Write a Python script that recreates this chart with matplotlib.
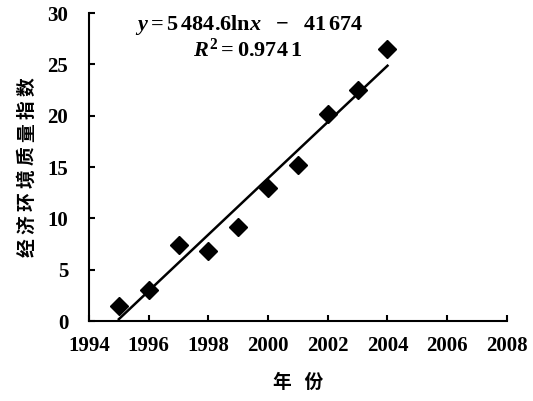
import numpy as np
import matplotlib
matplotlib.use("Agg")
import matplotlib.pyplot as plt

# 经济环境质量指数 by year
years = [1995, 1996, 1997, 1998, 1999, 2000, 2001, 2002, 2003, 2004]
index_values = [1.5, 3.0, 7.4, 6.8, 9.2, 13.0, 15.2, 20.2, 22.5, 26.5]

# logarithmic trend fitted to the series
coef_a = 5484.6
coef_b = -41674
r_squared = 0.9741

x_ticks = [1994, 1996, 1998, 2000, 2002, 2004, 2006, 2008]
y_ticks = [0, 5, 10, 15, 20, 25, 30]

plt.rcParams["font.family"] = ["Liberation Serif", "Noto Sans CJK SC"]
plt.rcParams["font.weight"] = "bold"
plt.rcParams["mathtext.fontset"] = "custom"
plt.rcParams["mathtext.rm"] = "Liberation Serif:bold"
plt.rcParams["mathtext.it"] = "Liberation Serif:bold:italic"
plt.rcParams["mathtext.bf"] = "Liberation Serif:bold"

fig = plt.figure(figsize=(5.33, 4.01), dpi=100)
ax = fig.add_axes([0.167, 0.1995, 0.784, 0.768])

# trend line
xs = np.linspace(1995.0, 2004.0, 200)
ys = coef_a * np.log(xs) + coef_b
keep = ys >= 0
ax.plot(xs[keep], ys[keep], color="black", lw=1.8, zorder=2)

ax.plot(years, index_values, linestyle="none", marker="D", ms=9.5,
        color="black", zorder=3)

ax.set_xlim(1994, 2008)
ax.set_ylim(0, 30)
ax.set_xticks(x_ticks)
ax.set_yticks(y_ticks)

for side in ("top", "right"):
    ax.spines[side].set_visible(False)
for side in ("left", "bottom"):
    ax.spines[side].set_linewidth(1.5)

ax.tick_params(axis="both", direction="in", length=4, width=1.5,
               labelsize=15)
ax.tick_params(axis="x", pad=11)
ax.tick_params(axis="y", pad=15)
for lab in ax.get_xticklabels() + ax.get_yticklabels():
    lab.set_fontweight("bold")

cjk = ["Noto Sans CJK SC", "DejaVu Sans"]
ax.set_ylabel("经 济 环 境 质 量 指 数", family=cjk, fontsize=13.5,
              fontweight="bold", labelpad=8)
ax.set_xlabel("年   份", family=cjk, fontsize=13.5, fontweight="bold",
              labelpad=12)

eq = r"$y = 5\,484.6\mathrm{ln}x\ \ -\ \ 41\,674$"
r2 = r"$R^{\mathrm{2}} = 0.974\,1$"
ax.text(0.383, 0.961, eq, transform=ax.transAxes, ha="center", va="center",
        fontsize=16)
ax.text(0.379, 0.88, r2, transform=ax.transAxes, ha="center", va="center",
        fontsize=16)

fig.savefig("out.png", dpi=100)
